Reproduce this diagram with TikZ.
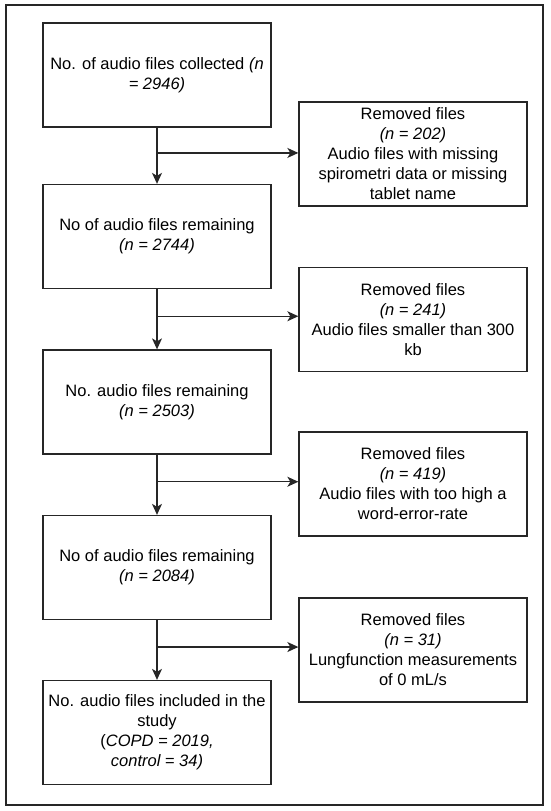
\documentclass[tikz,border=0pt]{standalone}
\usepackage{fontspec}
\setmainfont{Liberation Sans}
\usetikzlibrary{arrows.meta}
\usetikzlibrary{calc}

\tikzset{
	stepbox/.style={draw=black!85, line width=1.3pt, minimum width=228pt, minimum height=104pt, inner sep=2pt, align=center, font=\fontsize{16.5}{20}\selectfont},
	flow/.style={draw=black!85, line width=1.3pt, -{Stealth[length=11pt, width=10pt, inset=3pt]}},
}

\begin{document}
\begin{tikzpicture}[x=1pt, y=-1pt]
	% Page and outer frame
	\useasboundingbox (0,0) rectangle (550,811);
	\draw[black!85, line width=1.3pt] (6,5) rectangle (543,805);

	% Define coordinates
	% centres of the boxes in the main column (C1 ... C5)
	% centres of the boxes with the removed files (R1 ... R4)
	\coordinate (C1) at (157,75);
	\coordinate (C2) at (157,236.5);
	\coordinate (C3) at (157,402);
	\coordinate (C4) at (157,567.5);
	\coordinate (C5) at (157,732.5);
	\coordinate (R1) at (413,154);
	\coordinate (R2) at (413,319.5);
	\coordinate (R3) at (413,484);
	\coordinate (R4) at (413,650);

	% Main column
	\node[stepbox] (c1) at (C1) {No. of audio files collected \textit{(n}\\ \textit{= 2946)}};
	\node[stepbox] (c2) at (C2) {No of audio files remaining\\ \textit{(n = 2744)}};
	\node[stepbox] (c3) at (C3) {No. audio files remaining\\ \textit{(n = 2503)}};
	\node[stepbox] (c4) at (C4) {No of audio files remaining\\ \textit{(n = 2084)}};
	\node[stepbox] (c5) at (C5) {No. audio files included in the\\ study\\ (\textit{COPD = 2019,}\\ \textit{control = 34)}};

	% Removed files
	\node[stepbox] (r1) at (R1) {Removed files\\ \textit{(n = 202)}\\ Audio files with missing\\ spirometri data or missing\\ tablet name};
	\node[stepbox] (r2) at (R2) {Removed files\\ \textit{(n = 241)}\\ Audio files smaller than 300\\ kb};
	\node[stepbox] (r3) at (R3) {Removed files\\ \textit{(n = 419)}\\ Audio files with too high a\\ word-error-rate};
	\node[stepbox] (r4) at (R4) {Removed files\\ \textit{(n = 31)}\\ Lungfunction measurements\\ of 0 mL/s};

	% Branch points on the vertical arrows (b1 ... b4)
	\foreach \i/\j in {1/2,2/3,3/4,4/5} {
		\coordinate (b\i) at ($(c\i.south)!0.45!(c\j.north)$);
		\draw[flow] (c\i.south) -- (c\j.north);
		\draw[flow] (b\i) -- (b\i -| r\i.west);
	}
\end{tikzpicture}
\end{document}
